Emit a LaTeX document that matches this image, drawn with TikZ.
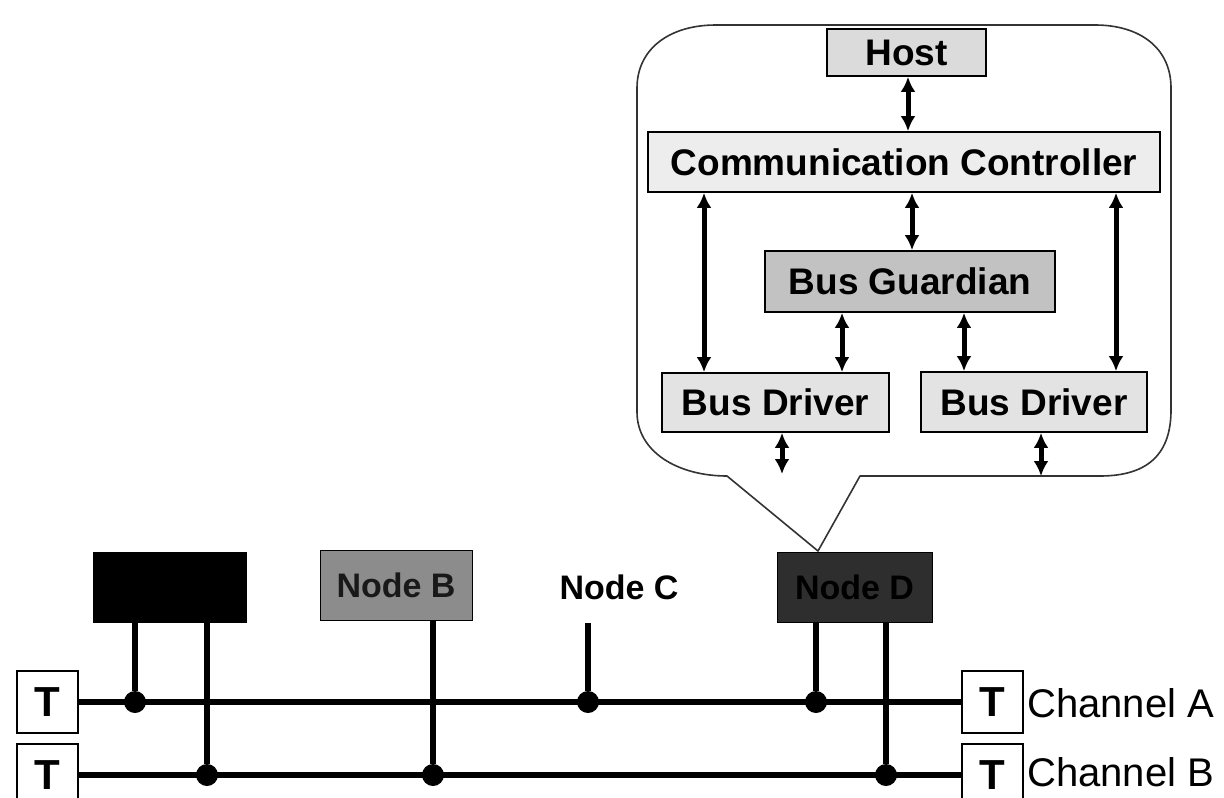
\documentclass[tikz,border=0pt]{standalone}
\usepackage{fontspec}
\setmainfont{Liberation Sans}
\usetikzlibrary{arrows.meta}
\begin{document}
\begin{tikzpicture}[x=1pt,y=-1pt,
  unit/.style={draw=black, line width=1.8pt, inner sep=0pt,
    font=\bfseries\fontsize{37}{37}\selectfont},
  biarrow/.style={{Latex[length=15pt,width=15pt]}-{Latex[length=15pt,width=15pt]}, line width=5pt},
  station/.style={draw=black, line width=1pt, inner sep=0pt,
    minimum width=153pt, minimum height=70pt,
    font=\bfseries\fontsize{34}{34}\selectfont},
  bus/.style={line width=6.5pt},
  stub/.style={line width=6pt},
  tap/.style={circle, fill=black, inner sep=0pt, minimum size=22pt},
  term/.style={draw=black, line width=2pt, fill=white, inner sep=0pt,
    minimum width=61pt, minimum height=62pt,
    font=\bfseries\fontsize{42}{42}\selectfont},
  chlabel/.style={anchor=west, inner sep=0pt, font=\fontsize{40}{40}\selectfont},
  callout/.style={draw=black!80, line width=1.6pt, line join=round}
]
\useasboundingbox (0,0) rectangle (1224,798);

% ---- callout outline with its pointer down to Node D
\draw[callout] (818,551) -- (860,476) -- (1100,476)
  .. controls (1150,476) and (1171,452) .. (1171,410) -- (1171,88)
  .. controls (1171,48) and (1140,25) .. (1095,25) -- (716,25)
  .. controls (668,25) and (637,50) .. (637,88) -- (637,412)
  .. controls (637,452) and (678,476) .. (727,476) -- cycle;

% ---- internal structure of a node
\node[unit, fill=black!14, minimum width=159pt, minimum height=47pt] (host) at (906.5,52.5) {Host};
\node[unit, fill=black!7, minimum width=512pt, minimum height=60pt] (cc) at (904,162) {Communication Controller};
\node[unit, fill=black!24, minimum width=290pt, minimum height=61pt] (bg) at (910,281.5) {Bus Guardian};
\node[unit, fill=black!11, minimum width=227pt, minimum height=59pt] (bd1) at (775.5,402.5) {Bus Driver};
\node[unit, fill=black!11, minimum width=226pt, minimum height=60pt] (bd2) at (1034,402) {Bus Driver};

% arrow columns
\coordinate (xh) at (908,0);
\coordinate (xl) at (704,0);
\coordinate (xm) at (912,0);
\coordinate (xr) at (1116,0);
\coordinate (xgl) at (842,0);
\coordinate (xgr) at (964,0);
\coordinate (o1) at (782,474);
\coordinate (o2) at (1041,476);

\draw[biarrow] (host.south -| xh) -- (cc.north -| xh);
\draw[biarrow] (cc.south -| xl) -- (bd1.north -| xl);
\draw[biarrow] (cc.south -| xm) -- (bg.north -| xm);
\draw[biarrow] (cc.south -| xr) -- (bd2.north -| xr);
\draw[biarrow] (bg.south -| xgl) -- (bd1.north -| xgl);
\draw[biarrow] (bg.south -| xgr) -- (bd2.north -| xgr);
\draw[biarrow] (bd1.south -| o1) -- (o1);
\draw[biarrow] (bd2.south -| o2) -- (o2);

% ---- cluster nodes
\node[station, fill=black, text=black] (na) at (169.5,587) {Node A};
\node[station, fill=black!45, text=black!90, minimum width=152pt] (nb) at (396,585) {Node B};
\node[inner sep=0pt, font=\bfseries\fontsize{34}{34}\selectfont] (nc) at (619,587) {Node C};
\node[station, fill=black!82, text=black, minimum width=155pt] (nd) at (854.5,587) {Node D};
\coordinate (ctop) at (588,623);

% ---- terminators
\node[term] (tal) at (47.5,702) {T};
\node[term] (tbl) at (47.5,775) {T};
\node[term] (tar) at (992,702) {T};
\node[term] (tbr) at (992,775) {T};

% ---- channels
\draw[bus] (tal.east) -- (tar.west);
\draw[bus] (tbl.east) -- (tbr.west);

% ---- attachment points
\node[tap] (pa1) at (135,702) {};
\node[tap] (pb1) at (207,775) {};
\node[tap] (pb2) at (433,775) {};
\node[tap] (pa3) at (588,702) {};
\node[tap] (pa4) at (816,702) {};
\node[tap] (pb4) at (886,775) {};

\draw[stub] (pa1 |- na.south) -- (pa1);
\draw[stub] (pb1 |- na.south) -- (pb1);
\draw[stub] (pb2 |- nb.south) -- (pb2);
\draw[stub] (ctop) -- (pa3);
\draw[stub] (pa4 |- nd.south) -- (pa4);
\draw[stub] (pb4 |- nd.south) -- (pb4);

% ---- channel names
\node[chlabel] (la) at (1027,703) {Channel A};
\node[chlabel] (lb) at (1027,772) {Channel B};
\end{tikzpicture}
\end{document}
